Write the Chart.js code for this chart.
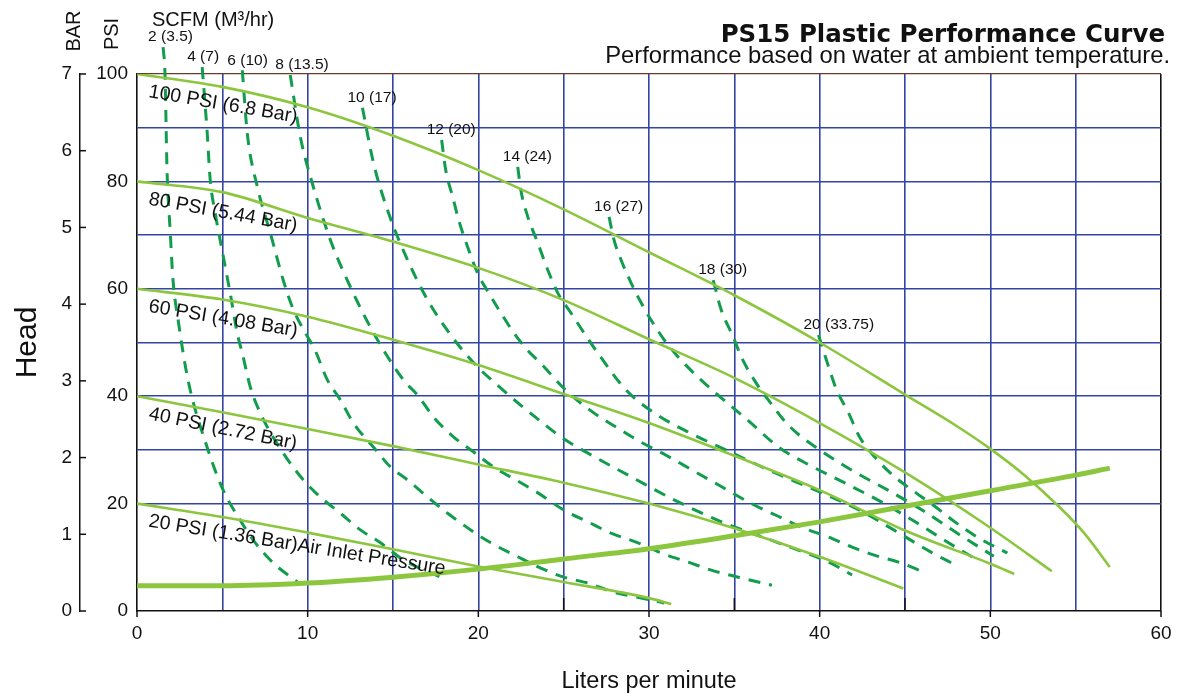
<!DOCTYPE html>
<html>
<head>
<meta charset="utf-8">
<title>PS15 Plastic Performance Curve</title>
<script src="https://cdn.jsdelivr.net/npm/chart.js"></script>
<style>
  html, body { margin: 0; padding: 0; background: #fff; }
  canvas { display: block; }
</style>
</head>
<body>
<canvas id="myChart" width="1177" height="699"></canvas>
<script>
// PS15 plastic pump curve
// x = liters per minute, y = head in PSI (BAR axis is just a second scale)

const lpmTicks = [0, 10, 20, 30, 40, 50, 60];
const psiTicks = [0, 20, 40, 60, 80, 100];
const barTicks = [0, 1, 2, 3, 4, 5, 6, 7];

// air inlet pressure curves (solid)
const psi100Curve = [[0,100],[5,97.6],[10,93.8],[15,88.5],[20,82.1],[25,74.8],[30,66.8],[35,58.8],[40,50],[45,40.3],[48,34.5],[50,30.2],[52,25.3],[54,19.5],[55.5,14.5],[57,8.2]];
const psi80Curve = [[0,80],[5,78],[10,73.2],[15,68.8],[20,63.9],[25,57.9],[30,50.6],[35,43.4],[40,35],[45,25.8],[50,15.5],[53.6,7.4]];
const psi60Curve = [[0,60],[5,58],[10,54.8],[15,50.5],[20,45.8],[25,40.4],[30,35],[35,28.9],[40,22.5],[45,15],[50,8.8],[51.4,6.9]];
const psi40Curve = [[0,40],[5,37],[10,33.9],[15,30.7],[20,27.3],[25,23.9],[30,20],[35,15.4],[40,10.1],[44.9,4.2]];
const psi20Curve = [[0,20],[5,17.5],[10,14.6],[15,11.5],[20,8.3],[25,5.4],[30,2.4],[31.3,1.3]];
const pressureNames = ['100 PSI (6.8 Bar)', '80 PSI (5.44 Bar)', '60 PSI (4.08 Bar)', '40 PSI (2.72 Bar)', '20 PSI (1.36 Bar)Air Inlet Pressure'];

// air consumption line (thick)
const airCurve = [[0,4.7],[5,4.7],[10,5.2],[15,6.3],[20,7.8],[25,9.7],[30,11.6],[35,14],[40,16.6],[45,19.5],[50,22.4],[55,25.3],[57,26.6]];

// SCFM (m3/hr) lines (dashed)
const scfm2 = [[1.53,105],[1.64,100],[1.76,82],[1.94,71],[2.11,61.6],[2.41,54.2],[2.99,43],[4.11,30.5],[5.05,22.5],[6.05,16.9],[6.81,13.2],[8.0,8.9],[9.4,5.4]];
const scfm4 = [[3.82,101.3],[4.11,89.2],[4.29,80.3],[4.58,74.1],[4.87,69.1],[5.17,64.1],[5.46,59.2],[5.87,51.8],[6.17,48],[6.64,41.7],[7.22,36.9],[8.57,29.4],[9.75,24.4],[10.75,21.2],[11.92,18.2],[13.09,15.1],[14.27,12.7],[15.62,9.5],[17.8,6.3]];
const scfm6 = [[6.17,100.7],[6.46,89],[7.05,79],[7.81,70.4],[8.57,61.6],[9.1,56.6],[9.86,51.8],[10.4,48.8],[11.16,43],[11.92,39.3],[12.68,35],[13.86,30.5],[14.86,26.8],[15.85,24.4],[17.03,21.2],[18.2,18.2],[19.55,15.1],[20.73,12.7],[22.31,10.1],[23.66,8],[25.01,6.3],[26.42,5.2],[27.95,3.5],[29.54,2.4],[30.9,1.5]];
const scfm8 = [[8.98,99.8],[9.57,88.3],[10.33,79],[11.33,69.1],[12.51,60.3],[13.86,51.8],[15.62,43],[16.44,40.2],[17.38,36.1],[18.56,32.4],[19.73,29.6],[20.9,26.8],[22.31,24.2],[23.49,22],[25.01,18.8],[26.42,16.6],[27.77,14.5],[29.36,12.7],[30.71,10.8],[32.3,9.1],[33.65,7.6],[35.23,6.3],[37.2,4.8]];
const scfm10 = [[13.21,93.7],[13.86,83.4],[14.74,74.1],[15.85,65.4],[17.03,57.9],[18.38,51.4],[19.85,45.8],[21.32,41.5],[22.49,38.3],[23.66,35.3],[24.84,32.4],[26.42,29.4],[28.95,25],[31.47,20.7],[34.41,16.4],[37.58,12.7],[40.52,9.1],[41.9,6.7]];
const scfm12 = [[17.85,87.7],[18.09,82.1],[18.5,77.1],[18.85,72.8],[19.44,67.2],[19.96,62.9],[20.61,59.2],[21.32,55.5],[22.08,51.8],[22.9,48.5],[23.7,46],[25,41.5],[26.5,37.5],[28.2,34],[29.5,31.5],[31,29],[32.5,26.3],[34,23.6],[36,20],[37.6,17.6],[39.1,15.4],[40.5,13.8],[41.9,11.9],[43.2,10.4],[44.8,8.9],[46.2,7.1]];
const scfm14 = [[22.31,82.7],[22.49,78.4],[22.9,73.4],[23.49,68.5],[24.07,63.5],[24.66,59.2],[25.43,55.5],[26.19,51.8],[27.01,48],[28.7,41],[30.5,36.5],[32.5,33],[34.5,30],[36.5,27],[38.5,24.2],[40.5,21.5],[42.5,18.5],[44.5,14.8],[46.5,11],[48,8.5]];
const scfm16 = [[27.66,73.4],[27.95,69.1],[28.36,65.4],[28.95,61.1],[29.54,57.4],[30.12,54.2],[30.89,50.5],[31.71,47.3],[33.06,43],[34.2,39.8],[35.8,35.5],[37.6,30.5],[39.5,27],[41.5,23.8],[43.5,20.5],[45.5,16.8],[47.5,12.8],[49.4,9.2]];
const scfm18 = [[33.76,61.6],[34.23,56.1],[34.94,51],[35.41,47.3],[36.17,43],[36.99,39.3],[38.2,34.5],[40,30],[42,26],[44,22.5],[46,18.8],[48,14.6],[50.2,10.2]];
const scfm20 = [[39.93,51.4],[40.4,46.7],[40.99,41.2],[41.69,36.9],[42.34,32.4],[43.22,28.7],[44.39,25],[45.56,22.2],[46.74,19.5],[47.92,16.6],[49.32,13.6],[51,10.8]];
const scfmNames = ['2 (3.5)', '4 (7)', '6 (10)', '8 (13.5)', '10 (17)', '12 (20)', '14 (24)', '16 (27)', '18 (30)', '20 (33.75)'];

const pressureCurves = [psi100Curve, psi80Curve, psi60Curve, psi40Curve, psi20Curve];
const scfmCurves = [scfm2, scfm4, scfm6, scfm8, scfm10, scfm12, scfm14, scfm16, scfm18, scfm20];

const FONT = '"Liberation Sans", Arial, Helvetica, sans-serif';
const LIGHT_GREEN = '#8cc63f';
const DASH_GREEN = '#129c4d';
const GRID_BLUE = '#3444a4';

// tilt of each pressure label, degrees
const labelTilt = [9.8, 10.3, 9.4, 11.5, 9.2];

Chart.defaults.font.family = FONT;
Chart.defaults.color = '#111';

const toPoints = (pairs) => pairs.map(([x, y]) => ({ x, y }));

const datasets = [];

datasets.push({
    label: 'Air consumption',
    data: toPoints(airCurve),
    borderColor: LIGHT_GREEN,
    borderWidth: 5,
    pointRadius: 0,
    cubicInterpolationMode: 'monotone',
});

pressureCurves.forEach((pts, i) => {
    datasets.push({
        label: pressureNames[i],
        data: toPoints(pts),
        borderColor: LIGHT_GREEN,
        borderWidth: 2.6,
        pointRadius: 0,
        cubicInterpolationMode: 'monotone',
    });
});

scfmCurves.forEach((pts, i) => {
    datasets.push({
        label: 'SCFM ' + scfmNames[i],
        data: toPoints(pts),
        borderColor: DASH_GREEN,
        borderWidth: 3,
        borderDash: [12, 9],
        pointRadius: 0,
        cubicInterpolationMode: 'monotone',
        clip: false, // the top of each dashed curve pokes above the frame
    });
});

// text and little marks that chart.js has no option for
const sheetDecor = {
    id: 'sheetDecor',
    afterDatasetsDraw(chart) {
        const { ctx, scales: { x, y } } = chart;
        ctx.save();
        ctx.fillStyle = '#111';

        ctx.font = '19.5px ' + FONT;
        ctx.textAlign = 'left';
        ctx.textBaseline = 'alphabetic';
        pressureCurves.forEach((pts, i) => {
            const px = x.getPixelForValue(pts[0][0]);
            const py = y.getPixelForValue(pts[0][1]);
            ctx.save();
            ctx.translate(px + 11, py + 23);
            ctx.rotate(labelTilt[i] * Math.PI / 180);
            ctx.fillText(pressureNames[i], 0, 0);
            ctx.restore();
        });

        ctx.font = '15.5px ' + FONT;
        ctx.textBaseline = 'middle';
        scfmCurves.forEach((pts, i) => {
            const px = x.getPixelForValue(pts[0][0]);
            const py = y.getPixelForValue(pts[0][1]);
            ctx.fillText(scfmNames[i], px - 15, py - 10);
        });
        ctx.restore();
    },
    afterDraw(chart) {
        const { ctx, chartArea, scales } = chart;
        const x = scales.x, bar = scales.bar;
        ctx.save();
        ctx.fillStyle = '#111';
        ctx.strokeStyle = '#111';
        ctx.lineWidth = 1.5;

        // BAR ticks point into the gap, not outward
        barTicks.forEach((v) => {
            const py = bar.getPixelForValue(v);
            ctx.beginPath();
            ctx.moveTo(bar.right, py);
            ctx.lineTo(bar.right + 6, py);
            ctx.stroke();
        });

        // short marks under the axis at the labelled values, a few inside
        lpmTicks.forEach((v) => {
            const px = x.getPixelForValue(v);
            ctx.beginPath();
            ctx.moveTo(px, chartArea.bottom);
            ctx.lineTo(px, chartArea.bottom + 6);
            ctx.stroke();
        });
        [25, 35, 45].forEach((v) => {
            const px = x.getPixelForValue(v);
            ctx.beginPath();
            ctx.moveTo(px, chartArea.bottom);
            ctx.lineTo(px, chartArea.bottom - 13);
            ctx.stroke();
        });

        // headings
        ctx.textAlign = 'right';
        ctx.textBaseline = 'alphabetic';
        ctx.font = 'bold 24.5px "DejaVu Sans", Verdana, sans-serif';
        ctx.fillText('PS15 Plastic Performance Curve', chartArea.right + 4, 42);
        ctx.font = '23.8px ' + FONT;
        ctx.fillText('Performance based on water at ambient temperature.', chartArea.right + 9, 63);

        ctx.textAlign = 'left';
        ctx.font = '20px ' + FONT;
        ctx.fillText('SCFM (M\u00B3/hr)', 152, 26);

        ctx.font = '20px ' + FONT;
        ctx.textAlign = 'center';
        ctx.textBaseline = 'middle';
        [['BAR', 74, 31], ['PSI', 112, 34]].forEach(([t, tx, ty]) => {
            ctx.save();
            ctx.translate(tx, ty);
            ctx.rotate(-Math.PI / 2);
            ctx.fillText(t, 0, 0);
            ctx.restore();
        });
        ctx.restore();
    }
};

const ctx = document.getElementById('myChart');
new Chart(ctx, {
    type: 'line',
    data: { datasets },
    options: {
        responsive: false,
        devicePixelRatio: 1,
        animation: false,
        layout: { padding: { top: 74, right: 16, bottom: 3, left: 10 } },
        plugins: { legend: { display: false }, tooltip: { enabled: false } },
        scales: {
            x: {
                type: 'linear',
                min: 0,
                max: 60,
                afterFit: (s) => { s.height = 85; },
                ticks: {
                    stepSize: 5,
                    autoSkip: false,
                    maxRotation: 0,
                    padding: 0,
                    font: { size: 19 },
                    callback: (v) => (lpmTicks.includes(v) ? v : ''),
                },
                grid: {
                    // invisible tick length just pushes the labels down
                    drawTicks: true,
                    tickLength: 11,
                    tickColor: 'rgba(0,0,0,0)',
                    color: (c) => {
                        const v = c.tick.value;
                        if (v === 0) return 'rgba(0,0,0,0)';
                        if (v === 60) return '#111';
                        return GRID_BLUE;
                    },
                    lineWidth: 1.6,
                },
                border: { color: '#111', width: 1.6 },
                title: { display: true, text: 'Liters per minute', font: { size: 23.5 }, padding: 0 },
            },
            y: {
                type: 'linear',
                position: 'left',
                weight: 0,
                min: 0,
                max: 100,
                afterFit: (s) => { s.width = 57; },
                ticks: {
                    stepSize: 10,
                    autoSkip: false,
                    padding: 9,
                    font: { size: 19 },
                    callback: (v) => (psiTicks.includes(v) ? v : ''),
                },
                grid: {
                    drawTicks: false,
                    color: (c) => {
                        const v = c.tick.value;
                        if (v === 100) return '#6b3b2a';
                        if (v === 0 || v === 10) return 'rgba(0,0,0,0)';
                        return GRID_BLUE;
                    },
                    lineWidth: (c) => (c.tick.value === 100 ? 1.2 : 1.6),
                },
                border: { color: '#111', width: 1.6 },
            },
            bar: {
                type: 'linear',
                position: 'left',
                weight: 1,
                min: 0,
                max: 7,
                afterFit: (s) => { s.width = 70; },
                ticks: {
                    stepSize: 1,
                    padding: 8,
                    font: { size: 19 },
                    callback: (v) => (barTicks.includes(v) ? v : ''),
                },
                grid: { drawOnChartArea: false, drawTicks: false },
                border: { color: '#111', width: 1.5 },
                title: { display: true, text: 'Head', font: { size: 30 }, padding: 0 },
            },
        },
    },
    plugins: [sheetDecor],
});
</script>
</body>
</html>
